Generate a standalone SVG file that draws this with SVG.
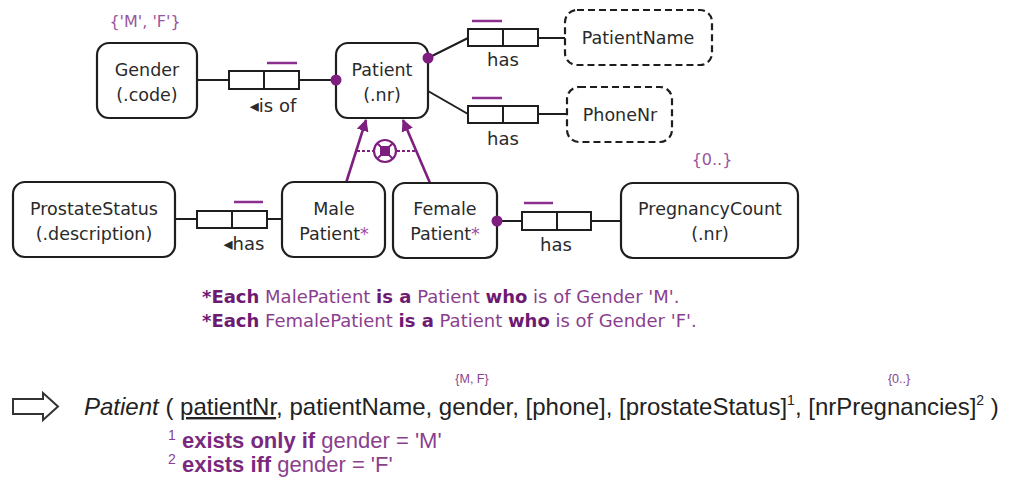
<svg xmlns="http://www.w3.org/2000/svg" width="1010" height="498" viewBox="0 0 1010 498">
  <style>
    .ent { fill: #fff; stroke: #1e1e1e; stroke-width: 2.2; }
    .val { fill: #fff; stroke: #1e1e1e; stroke-width: 2.2; stroke-dasharray: 7 4; }
    .role { fill: #fff; stroke: #1e1e1e; stroke-width: 2; }
    .ln { fill: none; stroke: #1e1e1e; stroke-width: 2; }
    .uc { stroke: #8a2f8e; stroke-width: 2.5; }
    .dot { fill: #7e1f80; }
    .sub { fill: none; stroke: #7e1f80; stroke-width: 2.6; }
    .lbl { font-family: "DejaVu Sans", Verdana, sans-serif; font-size: 17.5px; fill: #2a2a2a; text-anchor: middle; }
    .rl { font-family: "DejaVu Sans", Verdana, sans-serif; font-size: 18px; fill: #2a2a2a; text-anchor: middle; }
    .pc { font-family: "DejaVu Sans", Verdana, sans-serif; font-size: 16px; fill: #9a55a0; text-anchor: middle; }
    .note { font-family: "DejaVu Sans", Verdana, sans-serif; font-size: 18px; fill: #8a3f8e; }
    .note .b { font-weight: bold; fill: #6e1a72; }
    .rel { font-family: "Liberation Sans", Arial, sans-serif; font-size: 24px; fill: #222; }
    .foot { font-family: "Liberation Sans", Arial, sans-serif; font-size: 22px; fill: #8a3f8e; }
    .foot .b { font-weight: bold; fill: #7a2a7e; }
    .sm { font-family: "Liberation Sans", Arial, sans-serif; font-size: 12.5px; fill: #8a3f8e; text-anchor: middle; }
  </style>
  <defs>
    <marker id="subArrow" viewBox="0 0 12 12" refX="11" refY="6" markerWidth="12" markerHeight="12" markerUnits="userSpaceOnUse" orient="auto">
      <path d="M0,0 L12,6 L0,12 Z" fill="#7e1f80"/>
    </marker>
  </defs>

  <!-- connectors -->
  <g id="connectors">
    <!-- Gender - is of - Patient -->
    <line class="ln" x1="197" y1="80" x2="229" y2="80"/>
    <line class="ln" x1="300" y1="80" x2="336" y2="80"/>
    <!-- Patient - has - PatientName -->
    <line class="ln" x1="428" y1="58" x2="468" y2="38"/>
    <line class="ln" x1="538" y1="38" x2="565" y2="38"/>
    <!-- Patient - has - PhoneNr -->
    <line class="ln" x1="428" y1="91" x2="468" y2="114"/>
    <line class="ln" x1="538" y1="114" x2="567" y2="114"/>
    <!-- ProstateStatus - has - MalePatient -->
    <line class="ln" x1="175" y1="219" x2="197" y2="219"/>
    <line class="ln" x1="267" y1="219" x2="282" y2="219"/>
    <!-- FemalePatient - has - PregnancyCount -->
    <line class="ln" x1="497" y1="221" x2="522" y2="221"/>
    <line class="ln" x1="591" y1="221" x2="621" y2="221"/>

    <!-- subtype links -->
    <line class="sub" x1="346" y1="183" x2="366" y2="120" marker-end="url(#subArrow)"/>
    <line class="sub" x1="430" y1="183" x2="403" y2="120" marker-end="url(#subArrow)"/>
    <!-- exclusive-or constraint between subtypes -->
    <line x1="357" y1="151" x2="373" y2="151" stroke="#7e1f80" stroke-width="2" stroke-dasharray="3 2"/>
    <line x1="397" y1="151" x2="415" y2="151" stroke="#7e1f80" stroke-width="2" stroke-dasharray="3 2"/>
    <circle cx="385" cy="151" r="11" fill="#fff" stroke="#7e1f80" stroke-width="2.2"/>
    <line x1="377" y1="143" x2="393" y2="159" stroke="#7e1f80" stroke-width="2"/>
    <line x1="393" y1="143" x2="377" y2="159" stroke="#7e1f80" stroke-width="2"/>
    <rect x="380" y="146" width="10" height="10" rx="2" fill="#7e1f80"/>
  </g>

  <!-- fact type role boxes -->
  <g id="fact-isOf">
    <rect class="role" x="229" y="71" width="35" height="18"/>
    <rect class="role" x="264" y="71" width="35" height="18"/>
    <line class="uc" x1="267" y1="63" x2="297" y2="63"/>
    <text class="rl" x="273" y="112">◂is of</text>
  </g>
  <g id="fact-hasName">
    <rect class="role" x="468" y="29" width="35" height="17"/>
    <rect class="role" x="503" y="29" width="35" height="17"/>
    <line class="uc" x1="472" y1="21" x2="502" y2="21"/>
    <text class="rl" x="503" y="66">has</text>
  </g>
  <g id="fact-hasPhone">
    <rect class="role" x="468" y="106" width="35" height="17"/>
    <rect class="role" x="503" y="106" width="35" height="17"/>
    <line class="uc" x1="472" y1="98" x2="502" y2="98"/>
    <text class="rl" x="503" y="145">has</text>
  </g>
  <g id="fact-hasProstate">
    <rect class="role" x="197" y="211" width="35" height="17"/>
    <rect class="role" x="232" y="211" width="35" height="17"/>
    <line class="uc" x1="234" y1="202" x2="263" y2="202"/>
    <text class="rl" x="244" y="250">◂has</text>
  </g>
  <g id="fact-hasPregnancy">
    <rect class="role" x="522" y="212" width="35" height="18"/>
    <rect class="role" x="557" y="212" width="34" height="18"/>
    <line class="uc" x1="524" y1="203" x2="553" y2="203"/>
    <text class="rl" x="556" y="251">has</text>
  </g>

  <!-- entity and value types -->
  <g id="gender">
    <text class="pc" x="145" y="27">{'M', 'F'}</text>
    <rect class="ent" x="97" y="43" width="100" height="75" rx="12"/>
    <text class="lbl" x="147" y="76">Gender</text>
    <text class="lbl" x="147" y="101">(.code)</text>
  </g>
  <g id="patient">
    <rect class="ent" x="336" y="43" width="92" height="75" rx="12"/>
    <text class="lbl" x="382" y="76">Patient</text>
    <text class="lbl" x="382" y="101">(.nr)</text>
    <circle class="dot" cx="336" cy="80" r="5.5"/>
    <circle class="dot" cx="428" cy="58" r="5.5"/>
  </g>
  <g id="patientName">
    <rect class="val" x="565" y="10" width="147" height="55" rx="12"/>
    <text class="lbl" x="638" y="44">PatientName</text>
  </g>
  <g id="phoneNr">
    <rect class="val" x="567" y="87" width="105" height="55" rx="12"/>
    <text class="lbl" x="620" y="121">PhoneNr</text>
  </g>
  <g id="prostateStatus">
    <rect class="ent" x="13" y="182" width="162" height="75" rx="12"/>
    <text class="lbl" x="94" y="215">ProstateStatus</text>
    <text class="lbl" x="94" y="240">(.description)</text>
  </g>
  <g id="malePatient">
    <rect class="ent" x="282" y="182" width="103" height="75" rx="12"/>
    <text class="lbl" x="334" y="215">Male</text>
    <text class="lbl" x="334" y="240">Patient<tspan fill="#a04aa6">*</tspan></text>
  </g>
  <g id="femalePatient">
    <rect class="ent" x="393" y="183" width="104" height="75" rx="12"/>
    <text class="lbl" x="445" y="215">Female</text>
    <text class="lbl" x="445" y="240">Patient<tspan fill="#a04aa6">*</tspan></text>
    <circle class="dot" cx="497" cy="221" r="5.5"/>
  </g>
  <g id="pregnancyCount">
    <text class="pc" x="712" y="165">{0..}</text>
    <rect class="ent" x="621" y="183" width="177" height="75" rx="12"/>
    <text class="lbl" x="710" y="215">PregnancyCount</text>
    <text class="lbl" x="710" y="240">(.nr)</text>
  </g>

  <!-- subtype definitions -->
  <g id="subtype-rules">
    <text class="note" x="202" y="303"><tspan class="b">*Each</tspan> MalePatient <tspan class="b">is a</tspan> Patient <tspan class="b">who</tspan> is of Gender 'M'.</text>
    <text class="note" x="202" y="327"><tspan class="b">*Each</tspan> FemalePatient <tspan class="b">is a</tspan> Patient <tspan class="b">who</tspan> is of Gender 'F'.</text>
  </g>

  <!-- relational mapping -->
  <g id="mapping">
    <path d="M13,399 H43 V393 L58,406.5 L43,420 V414 H13 Z" fill="#fff" stroke="#333" stroke-width="2" stroke-linejoin="miter"/>
    <text class="rel" x="84" y="415"><tspan font-style="italic">Patient</tspan> ( <tspan text-decoration="underline">patientNr</tspan>, patientName, gender, [phone], [prostateStatus]<tspan font-size="14" dy="-10">1</tspan><tspan dy="10">, [nrPregnancies]</tspan><tspan font-size="14" dy="-10">2</tspan><tspan dy="10"> )</tspan></text>
    <text class="sm" x="472" y="383">{M, F}</text>
    <text class="sm" x="899" y="383">{0..}</text>
    <text class="foot" x="168" y="448"><tspan font-size="14" dy="-8">1</tspan><tspan dy="8" class="b"> exists only if</tspan> gender = 'M'</text>
    <text class="foot" x="168" y="472"><tspan font-size="14" dy="-8">2</tspan><tspan dy="8" class="b"> exists iff</tspan> gender = 'F'</text>
  </g>
</svg>
